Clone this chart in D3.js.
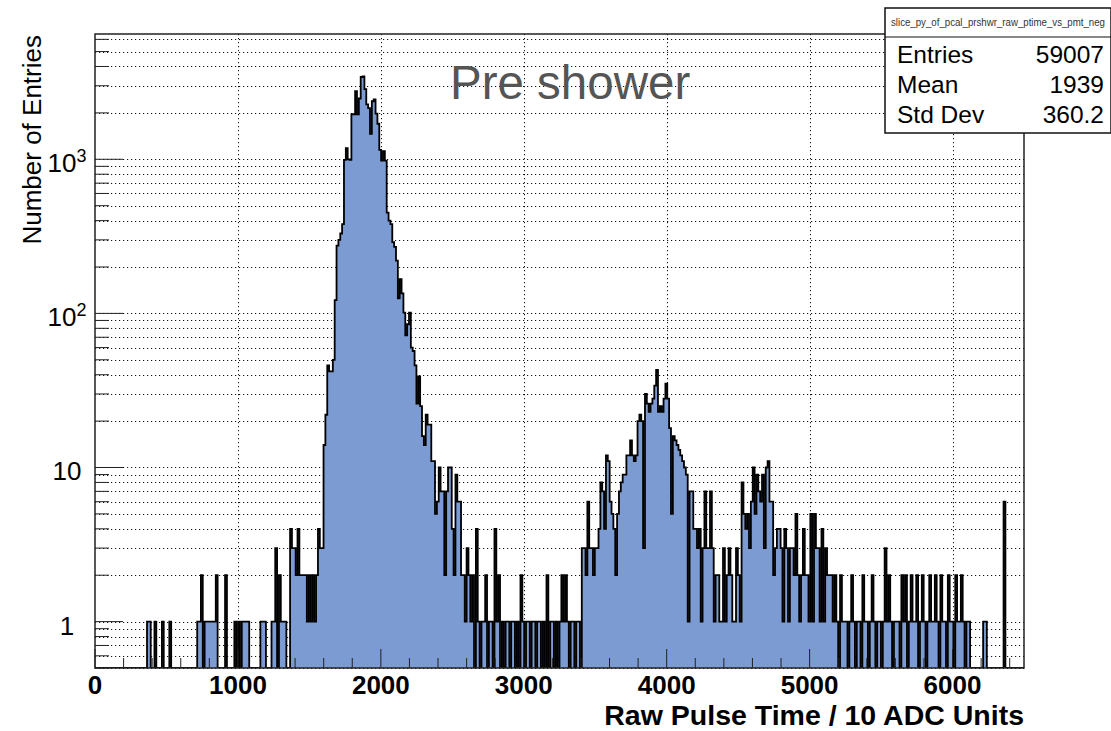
<!DOCTYPE html>
<html>
<head>
<meta charset="utf-8">
<script src="https://cdn.jsdelivr.net/npm/d3@7"></script>
<style>
  body { margin: 0; background: #fff; }
  svg { display: block; font-family: "Liberation Sans", Arial, sans-serif; }
</style>
</head>
<body>
<div id="chart"></div>
<script>
// histogram binning
const xMin = 0, xMax = 6500, nBins = 500;

// low tail, sparse [bin, count]
const lowTail = [
    [28,1],[29,1],[32,1],[36,1],[40,1],[55,1],[56,1],[57,2],[59,1],[60,1],[61,1],
    [62,1],[63,1],[64,1],[65,2],[70,2],[75,1],[77,1],[79,1],[80,1],[81,1],[82,1],
    [89,1],[90,1],[91,1],[95,1],[96,1],[97,3],[99,2],[100,1],[101,1],[102,1],
    [105,4],[106,3],[107,3],[108,2],[109,4],[110,2],[111,2],[112,2],[113,2],
    [114,1],[115,2],[116,1],[117,2],[118,1],[119,2],[120,4],[121,3],[122,3]
];

// main peak, bins 123..185
const mainPeakStart = 123;
const mainPeak = [
    14, 22, 46, 42, 42, 50, 122, 275, 300, 330,
    380, 990, 1180, 1000, 990, 1960, 1960, 2770, 1960, 2480,
    3420, 3450, 2850, 2270, 2150, 1460, 2380, 2450, 1980, 1700,
    1150, 980, 1130, 980, 450, 400, 380, 290, 270, 220,
    125, 167, 135, 101, 72, 85, 101, 60, 57, 46,
    26, 39, 25, 16, 14, 22, 19, 19, 11, 11,
    5, 6, 10
];

// valley between peaks, bins 186..265
const valleyStart = 186;
const valley = [
    7, 7, 2, 7, 10, 10, 4, 2, 9, 6,
    6, 2, 2, 1, 3, 2, 1, 2, 0, 4,
    1, 0, 1, 1, 2, 0, 1, 1, 0, 4,
    1, 2, 0, 1, 0, 1, 1, 0, 1, 1,
    0, 1, 0, 2, 1, 0, 1, 1, 0, 1,
    1, 0, 1, 1, 0, 1, 0, 2, 0, 1,
    1, 0, 1, 0, 1, 2, 1, 2, 1, 0,
    1, 1, 0, 1, 1, 0, 3, 3, 2, 6
];

// second peak, bins 266..336
const secondPeakStart = 266;
const secondPeak = [
    3, 3, 2, 3, 3, 4, 8, 7, 4, 12,
    11, 6, 5, 4, 2, 5, 7, 8, 9, 9,
    12, 12, 15, 12, 11, 12, 20, 22, 20, 3,
    30, 26, 23, 26, 28, 34, 43, 23, 25, 23,
    28, 35, 28, 18, 5, 16, 15, 14, 13, 12,
    11, 10, 9, 1, 7, 7, 4, 4, 3, 4,
    1, 3, 7, 3, 3, 7, 3, 1, 2, 2, 1
];

// high tail, bins 337..499
const highTailStart = 337;
const highTail = [
    1, 3, 1, 2, 3, 2, 1, 1, 3, 2,
    1, 8, 5, 4, 5, 3, 6, 10, 5, 9,
    7, 6, 9, 3, 10, 11, 6, 6, 2, 3,
    4, 4, 3, 1, 4, 3, 1, 3, 3, 2,
    5, 2, 1, 2, 4, 2, 2, 1, 5, 1,
    5, 3, 3, 1, 4, 1, 3, 2, 2, 2,
    1, 2, 1, 0, 2, 1, 1, 1, 0, 1,
    2, 1, 0, 1, 1, 0, 2, 1, 1, 0,
    1, 2, 1, 0, 1, 1, 0, 1, 3, 1,
    2, 1, 0, 1, 1, 1, 0, 2, 1, 2,
    0, 1, 2, 1, 1, 2, 0, 1, 2, 1,
    0, 1, 2, 1, 1, 2, 1, 0, 2, 1,
    1, 0, 2, 1, 1, 0, 2, 1, 1, 2,
    1, 0, 1, 1, 0, 0, 0, 0, 0, 0,
    0, 1, 1, 0, 0, 0, 0, 0, 0, 0,
    0, 0, 6, 0, 0, 0, 0, 0, 0, 0,
    0, 0, 0
];

const xTicks = [0, 1000, 2000, 3000, 4000, 5000, 6000];
const yDecades = [1, 10, 100, 1000];
const statsTitle = "slice_py_of_pcal_prshwr_raw_ptime_vs_pmt_neg";
const statsRows = [["Entries", "59007"], ["Mean", "1939"], ["Std Dev", "360.2"]];

// assemble bin contents
const counts = new Array(nBins).fill(0);
lowTail.forEach(([b, c]) => counts[b] = c);
mainPeak.forEach((c, k) => counts[mainPeakStart + k] = c);
valley.forEach((c, k) => counts[valleyStart + k] = c);
secondPeak.forEach((c, k) => counts[secondPeakStart + k] = c);
highTail.forEach((c, k) => counts[highTailStart + k] = c);
const binWidth = (xMax - xMin) / nBins;

const width = 1111, height = 731;
const frame = { left: 95, right: 1024, top: 34, bottom: 668 };

const svg = d3.select("#chart").append("svg")
    .attr("width", width)
    .attr("height", height);

const x = d3.scaleLinear().domain([xMin, xMax]).range([frame.left, frame.right]);
const y = d3.scaleLog().domain([0.5, 6500]).range([frame.bottom, frame.top]);

// minor log positions (2..9 per decade plus the partial one below 1)
const yMinor = [];
[0.1, 1, 10, 100, 1000].forEach(d => {
    for (let k = 2; k <= 9; k++) {
        const v = d * k;
        if (v >= 0.5 && v <= 6500) yMinor.push(v);
    }
});
const xMinor = d3.range(xMin, xMax + 1, 200).filter(v => v % 1000 !== 0);

svg.append("defs").append("clipPath").attr("id", "frameClip")
    .append("rect")
    .attr("x", frame.left).attr("y", frame.top)
    .attr("width", frame.right - frame.left)
    .attr("height", frame.bottom - frame.top);

// grid
const grid = svg.append("g")
    .attr("stroke", "#111")
    .attr("stroke-width", 1)
    .attr("stroke-dasharray", "1.2,2.8");

grid.selectAll("line.h")
    .data(yDecades.concat(yMinor))
    .join("line")
    .attr("class", "h")
    .attr("x1", frame.left).attr("x2", frame.right)
    .attr("y1", d => Math.round(y(d)) + 0.5).attr("y2", d => Math.round(y(d)) + 0.5);

grid.selectAll("line.v")
    .data(xTicks.slice(1))
    .join("line")
    .attr("class", "v")
    .attr("x1", d => Math.round(x(d)) + 0.5).attr("x2", d => Math.round(x(d)) + 0.5)
    .attr("y1", frame.top).attr("y2", frame.bottom);

// histogram as a step outline, empty bins drop to the frame bottom
const outline = [[x(xMin), frame.bottom]];
counts.forEach((c, i) => {
    const yy = c > 0 ? y(c) : frame.bottom;
    outline.push([x(xMin + i * binWidth), yy], [x(xMin + (i + 1) * binWidth), yy]);
});
outline.push([x(xMax), frame.bottom]);

const hist = svg.append("g").attr("clip-path", "url(#frameClip)");
hist.append("path")
    .attr("d", d3.line()(outline) + "Z")
    .attr("fill", "#7b9bd2")
    .attr("stroke", "none");
hist.append("path")
    .attr("d", d3.line()(outline))
    .attr("fill", "none")
    .attr("stroke", "#000")
    .attr("stroke-width", 1.8);

// ticks, drawn inside the frame
const ticks = svg.append("g").attr("stroke", "#222").attr("stroke-width", 1);
ticks.selectAll("line.xM").data(xTicks).join("line")
    .attr("x1", d => x(d)).attr("x2", d => x(d))
    .attr("y1", frame.bottom).attr("y2", frame.bottom - 19);
ticks.selectAll("line.xm").data(xMinor).join("line")
    .attr("x1", d => x(d)).attr("x2", d => x(d))
    .attr("y1", frame.bottom).attr("y2", frame.bottom - 10);
ticks.selectAll("line.yM").data(yDecades).join("line")
    .attr("x1", frame.left).attr("x2", frame.left + 28)
    .attr("y1", d => y(d)).attr("y2", d => y(d));
ticks.selectAll("line.ym").data(yMinor).join("line")
    .attr("x1", frame.left).attr("x2", frame.left + 14)
    .attr("y1", d => y(d)).attr("y2", d => y(d));

// frame
svg.append("rect")
    .attr("x", frame.left).attr("y", frame.top)
    .attr("width", frame.right - frame.left)
    .attr("height", frame.bottom - frame.top)
    .attr("fill", "none")
    .attr("stroke", "#222")
    .attr("stroke-width", 1.5);

// x labels
svg.append("g").selectAll("text").data(xTicks).join("text")
    .attr("x", d => x(d))
    .attr("y", 694)
    .attr("text-anchor", "middle")
    .style("font-size", "26px")
    .style("font-weight", "bold")
    .text(d => d);

svg.append("text")
    .attr("x", frame.right)
    .attr("y", 725)
    .attr("text-anchor", "end")
    .style("font-size", "28.5px")
    .style("font-weight", "bold")
    .text("Raw Pulse Time / 10 ADC Units");

// y labels: 1, 10, then 10^n
const yLab = svg.append("g").selectAll("text").data(yDecades).join("text")
    .attr("x", 67)
    .attr("y", d => y(d) + 13)
    .attr("text-anchor", "middle")
    .style("font-size", "26px");
yLab.each(function (d) {
    const t = d3.select(this);
    const e = Math.round(Math.log10(d));
    if (e < 2) {
        t.text(d);
    } else {
        t.append("tspan").text("10");
        t.append("tspan").attr("dy", -10).style("font-size", "18px").text(e);
    }
});

svg.append("text")
    .attr("transform", "translate(41,35) rotate(-90)")
    .attr("text-anchor", "end")
    .style("font-size", "26px")
    .text("Number of Entries");

svg.append("text")
    .attr("x", 450)
    .attr("y", 99)
    .attr("fill", "#555")
    .style("font-size", "47.5px")
    .text("Pre shower");

// stats box
const stats = svg.append("g");
stats.append("rect")
    .attr("x", 885).attr("y", 8)
    .attr("width", 226).attr("height", 125)
    .attr("fill", "#fff")
    .attr("stroke", "#111")
    .attr("stroke-width", 1.5);
stats.append("line")
    .attr("x1", 885).attr("x2", 1111)
    .attr("y1", 37).attr("y2", 37)
    .attr("stroke", "#111")
    .attr("stroke-width", 1.2);
stats.append("text")
    .attr("x", 998)
    .attr("y", 26)
    .attr("text-anchor", "middle")
    .attr("fill", "#333")
    .attr("textLength", 214)
    .attr("lengthAdjust", "spacingAndGlyphs")
    .style("font-size", "10px")
    .text(statsTitle);
statsRows.forEach(([label, value], i) => {
    stats.append("text")
        .attr("x", 897).attr("y", 63 + i * 30)
        .style("font-size", "24.5px")
        .text(label);
    stats.append("text")
        .attr("x", 1104).attr("y", 63 + i * 30)
        .attr("text-anchor", "end")
        .style("font-size", "24.5px")
        .text(value);
});
</script>
</body>
</html>
